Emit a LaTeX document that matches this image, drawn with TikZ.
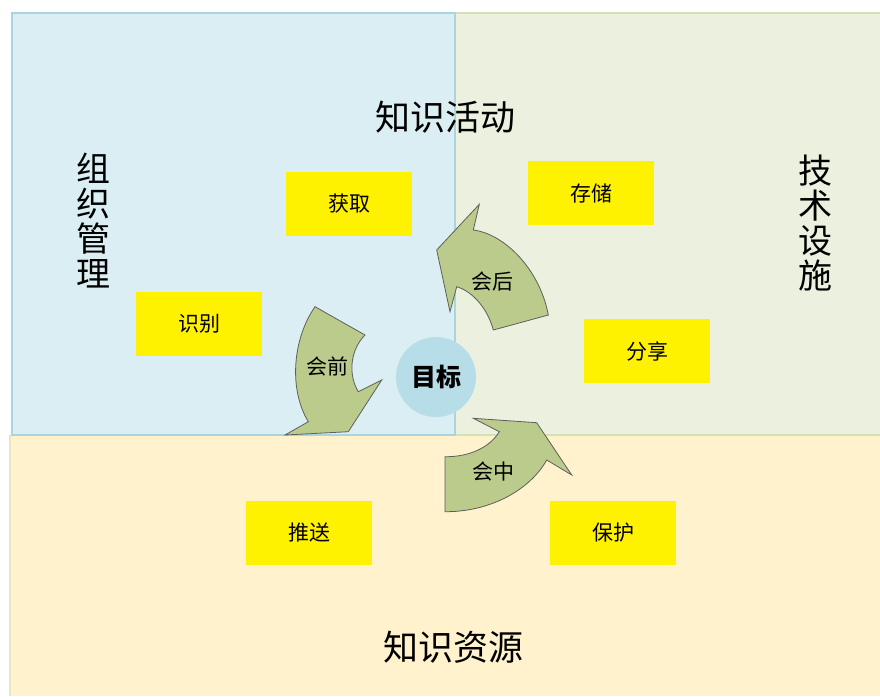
\documentclass[tikz,border=0pt]{standalone}
\usepackage{fontspec}
\newfontfamily\cjk{Noto Sans CJK SC}
\definecolor{bluefill}{HTML}{DAEEF3}
\definecolor{blueedge}{HTML}{A9D4E0}
\definecolor{greenfill}{HTML}{EBF1DE}
\definecolor{greenedge}{HTML}{D3E0B8}
\definecolor{orangefill}{HTML}{FFF2CC}
\definecolor{orangeedge}{HTML}{E4E6C4}
\definecolor{arrowgreen}{HTML}{BBCB8C}
\definecolor{arrowedge}{HTML}{5E5E5E}
\definecolor{circleblue}{HTML}{B7DDE8}
\begin{document}
\begin{tikzpicture}[x=1pt,y=-1pt,
  ybox/.style={fill=yellow, minimum width=126pt, minimum height=64pt, inner sep=0pt, font=\cjk\fontsize{21}{21}\selectfont},
  big/.style={font=\cjk\fontsize{35}{36}\selectfont, inner sep=0pt},
  vert/.style={font=\cjk\fontsize{34}{35}\selectfont, align=center, inner sep=0pt},
  carrow/.style={fill=arrowgreen, draw=arrowedge, line width=0.8pt, line join=miter},
  alabel/.style={font=\cjk\fontsize{21}{21}\selectfont, inner sep=0pt}]
\useasboundingbox (0,0) rectangle (880,696);
\fill[white] (0,0) rectangle (880,696);
% regions
\fill[bluefill] (12,13) rectangle (455,435);
\fill[greenfill] (455,13) rectangle (880,435);
\fill[orangefill] (10,435) rectangle (880,696);
\draw[greenedge, line width=1.2pt] (455,13) -- (880,13);
\draw[greenedge, line width=1.2pt] (455,435) -- (880,435);
\draw[orangeedge, line width=1.2pt] (10,696) -- (10,435);
\draw[blueedge, line width=1.2pt] (12,435) -- (12,13) -- (455,13) -- (455,435) -- cycle;
% yellow boxes
\node[ybox] (hq) at (349,204) {获取};
\node[ybox] (cc) at (591,193) {存储};
\node[ybox] (sb) at (199,324) {识别};
\node[ybox] (fx) at (647,351) {分享};
\node[ybox] (ts) at (309,533) {推送};
\node[ybox] (bh) at (613,533) {保护};
% circular arrows
\draw[carrow] (315,306.7) .. controls (292,340) and (289,390) .. (308.3,421.7) -- (285,435) -- (348.3,431.7) -- (381.7,380) -- (358.3,391.7) .. controls (348,375) and (350,350) .. (365,335) -- cycle;
\draw[carrow] (479.3,204.3) -- (473.3,230) .. controls (505,234) and (540,270) .. (548.3,315) -- (493.3,330) .. controls (488,310) and (474,292) .. (456.7,286.7) -- (450,311.7) -- (436.7,250) -- cycle;
\draw[carrow] (473.3,418.3) -- (536.7,422.7) -- (571.7,475) -- (546.7,460) .. controls (530,490) and (490,512) .. (445,511.7) -- (445,456.7) .. controls (470,457) and (490,447) .. (499.3,431.7) -- cycle;
\node[alabel] (hqian) at (327,366) {会前};
\node[alabel] (hhou) at (492,282) {会后};
\node[alabel] (hzhong) at (493,472) {会中};
% goal
\node[circle, fill=circleblue, minimum size=80pt, inner sep=0pt, font=\cjk\bfseries\fontsize{25}{25}\selectfont] (goal) at (436,377) {目标};
% region labels
\node[big] (zshd) at (445,117) {知识活动};
\node[big] (zszy) at (453,647) {知识资源};
\node[vert] (zzgl) at (93,221) {组\\织\\管\\理};
\node[vert] (jsss) at (815,223) {技\\术\\设\\施};
\end{tikzpicture}
\end{document}
